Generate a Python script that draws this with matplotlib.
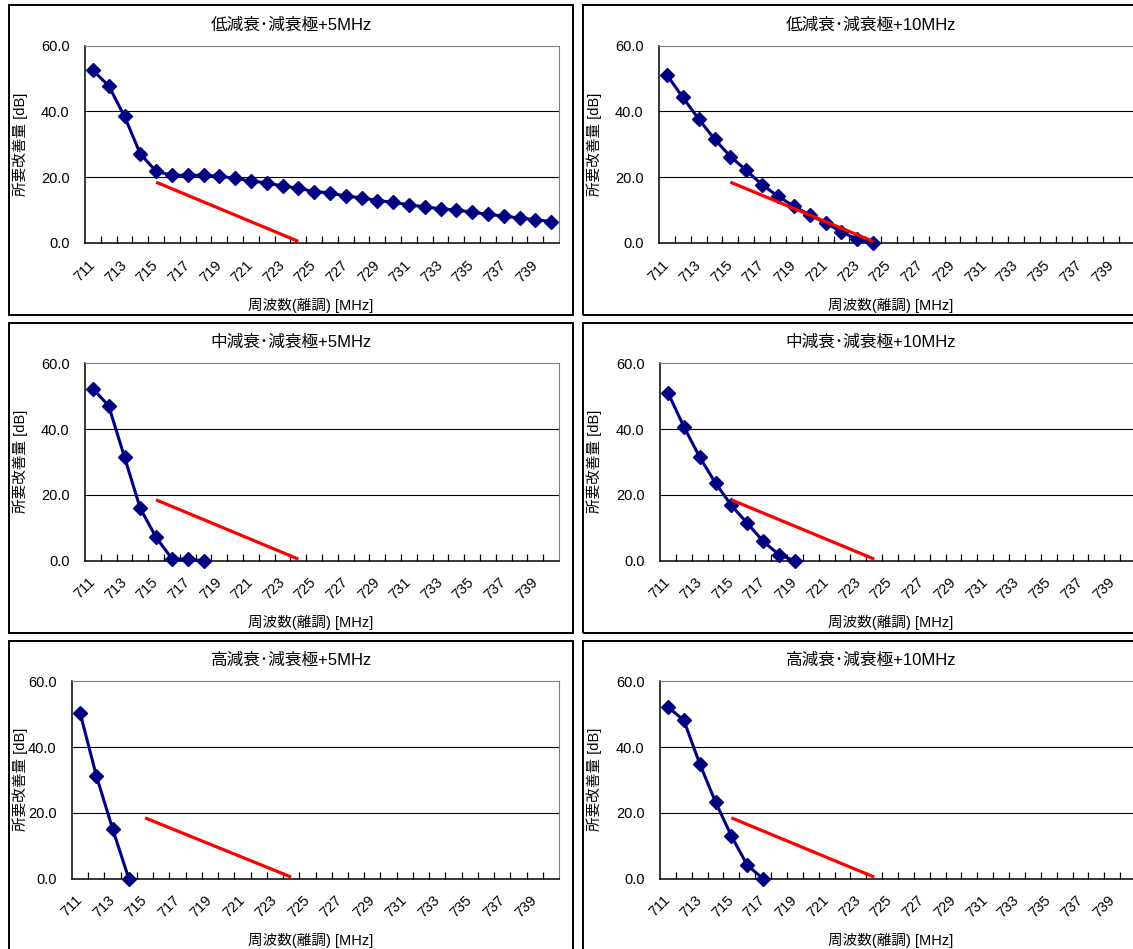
import matplotlib
matplotlib.use("Agg")
import matplotlib.pyplot as plt
import matplotlib.transforms as mtransforms
from matplotlib.patches import Rectangle

plt.rcParams['font.family'] = ['Liberation Sans', 'Noto Sans CJK JP', 'DejaVu Sans']

# frequency categories (MHz) and labelled ticks
freq = list(range(711, 741))
tick_freq = list(range(711, 741, 2))

# required improvement [dB] per panel
low_5 = [52.5, 47.8, 38.5, 27.1, 21.8, 20.6, 20.6, 20.6, 20.3, 19.7,
         18.8, 18.3, 17.3, 16.7, 15.6, 15.3, 14.2, 13.8, 12.9, 12.4,
         11.6, 11.0, 10.4, 10.0, 9.4, 8.7, 8.2, 7.6, 7.1, 6.5]
low_10 = [51.1, 44.3, 37.7, 31.6, 26.3, 22.1, 17.7, 14.2, 11.2, 8.5,
          6.1, 3.4, 1.1, 0.0]
mid_5 = [52.3, 47.1, 31.5, 15.9, 7.1, 0.6, 0.4, 0.0]
mid_10 = [51.1, 40.8, 31.5, 23.6, 16.8, 11.4, 5.9, 1.8, 0.0]
high_5 = [50.4, 31.3, 15.2, 0.0]
high_10 = [52.2, 48.2, 35.0, 23.3, 13.0, 4.1, 0.0]

# red reference line
ref_freq = [715, 724]
ref_db = [18.5, 0.5]

titles = ["低減衰･減衰極+5MHz", "低減衰･減衰極+10MHz",
          "中減衰･減衰極+5MHz", "中減衰･減衰極+10MHz",
          "高減衰･減衰極+5MHz", "高減衰･減衰極+10MHz"]
series = [low_5, low_10, mid_5, mid_10, high_5, high_10]

W, H = 1133, 949
fig = plt.figure(figsize=(W / 100, H / 100), dpi=100)


def fx(x):
    return x / W


def fy(y):
    return 1 - y / H


def panel(title, vals, left, top, px0, px1, col):
    # outer frame of the chart object
    fig.patches.append(Rectangle((fx(left), fy(top + 310)), 564 / W, 310 / H,
                                 transform=fig.transFigure, fill=False,
                                 ec='black', lw=1.4, zorder=0))
    ax = fig.add_axes([fx(px0), fy(top + 238), (px1 - px0) / W, 197.3 / H])
    ax.plot(freq[:len(vals)], vals, color='#000080', lw=2.2, marker='D',
            ms=6.8, clip_on=False, zorder=3)
    ax.plot(ref_freq, ref_db, color='#ff0000', lw=2.3, zorder=4,
            solid_capstyle='butt')
    for g in (20, 40):
        ax.axhline(g, color='black', lw=0.8, zorder=1)
    ax.set_xlim(710.5, 740.5)
    ax.set_ylim(0, 60)
    ax.set_yticks([0, 20, 40, 60])
    ax.set_yticklabels(['0.0', '20.0', '40.0', '60.0'], fontsize=10.5)
    ax.tick_params(axis='y', length=0, pad=11)
    ax.set_xticks(tick_freq)
    ax.set_xticklabels([str(t) for t in tick_freq], fontsize=10.5, rotation=45,
                       ha='right', va='center', rotation_mode='anchor')
    shift = mtransforms.ScaledTranslation(4 / 100, -2 / 100, fig.dpi_scale_trans)
    for lab in ax.get_xticklabels():
        lab.set_transform(lab.get_transform() + shift)
    ax.set_xticks([f + 0.5 for f in freq[:-1]], minor=True)
    ax.tick_params(axis='x', which='major', length=0, pad=14)
    ax.tick_params(axis='x', which='minor', direction='in', length=5,
                   width=0.9, color='black')
    ax.spines['top'].set_color('#808080')
    ax.spines['right'].set_color('#808080')
    for s in ('left', 'bottom'):
        ax.spines[s].set_color('black')
        ax.spines[s].set_linewidth(1.1)

    cx = 291 if col == 0 else 871
    fig.text(fx(cx), fy(top + 20), title, ha='center', va='center', fontsize=12)
    fig.text(fx(cx + 20), fy(top + 300), "周波数(離調) [MHz]", ha='center',
             va='center', fontsize=10.5)
    fig.text(fx(left + 11), fy(top + 139), "所要改善量 [dB]", ha='center',
             va='center', rotation=90, fontsize=10.5)
    return ax


frame_tops = [5, 322.7, 640.7]
plot_x = [(85, 559), (659, 1135), (85, 559), (660, 1136), (72, 559), (660, 1136)]
for i, (title, vals) in enumerate(zip(titles, series)):
    row, col = divmod(i, 2)
    left = 9 if col == 0 else 583
    panel(title, vals, left, frame_tops[row], plot_x[i][0], plot_x[i][1], col)

fig.savefig("out.png", dpi=100)
